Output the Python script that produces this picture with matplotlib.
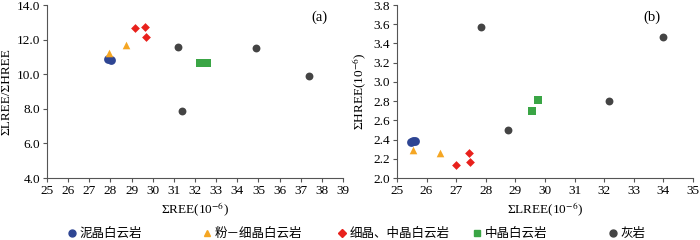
import matplotlib
matplotlib.use("Agg")
import matplotlib.pyplot as plt
from matplotlib.lines import Line2D

plt.rcParams['font.family'] = ['Liberation Serif', 'Noto Sans CJK SC']
plt.rcParams['mathtext.fontset'] = 'stix'
plt.rcParams['font.size'] = 9.5

names = ['泥晶白云岩', '粉－细晶白云岩', '细晶、中晶白云岩', '中晶白云岩', '灰岩']
colors = ['#2e4593', '#f5a623', '#e8211c', '#3aa545', '#444444']
markers = ['o', '^', 'D', 's', 'o']

# (a) sum REE vs LREE/HREE
a_x = [
    [27.88, 28.02],
    [27.93, 28.73],
    [29.15, 29.62, 29.70],
    [32.24, 32.57],
    [31.21, 31.40, 34.91, 37.41],
]
a_y = [
    [10.87, 10.82],
    [11.20, 11.69],
    [12.67, 12.73, 12.13],
    [10.67, 10.67],
    [11.56, 7.85, 11.50, 9.88],
]

# (b) LREE vs HREE
b_x = [
    [25.46, 25.54, 25.62],
    [25.53, 26.44],
    [27.01, 27.42, 27.48],
    [29.56, 29.75],
    [27.84, 28.75, 32.16, 33.97],
]
b_y = [
    [2.380, 2.381, 2.388],
    [2.287, 2.260],
    [2.132, 2.260, 2.163],
    [2.696, 2.813],
    [3.568, 2.505, 2.807, 3.471],
]

sizes = [40, 30, 20, 38, 32]

fig = plt.figure(figsize=(7, 2.4), dpi=100)
ax1 = fig.add_axes([0.067, 0.258, 0.423, 0.721])
ax2 = fig.add_axes([0.567, 0.258, 0.423, 0.721])

for i in range(5):
    ax1.scatter(a_x[i], a_y[i], s=sizes[i], c=colors[i], marker=markers[i],
                linewidths=0, zorder=3, clip_on=False)
    ax2.scatter(b_x[i], b_y[i], s=sizes[i], c=colors[i], marker=markers[i],
                linewidths=0, zorder=3, clip_on=False)

ax1.set_xlim(25, 39)
ax1.set_ylim(4, 14)
ax1.set_xticks(range(25, 40))
ax1.set_yticks([4, 6, 8, 10, 12, 14])
ax1.set_yticklabels(['%.1f' % v for v in [4, 6, 8, 10, 12, 14]])
ax1.set_xlabel(r'ΣREE(10$^{-6}$)', labelpad=3)
ax1.set_ylabel('ΣLREE/ΣHREE', labelpad=3)
ax1.text(0.92, 0.93, '(a)', transform=ax1.transAxes, ha='center', va='center', fontsize=10.5)

ax2.set_xlim(25, 35)
ax2.set_ylim(2.0, 3.8)
ax2.set_xticks(range(25, 36))
yt = [2.0, 2.2, 2.4, 2.6, 2.8, 3.0, 3.2, 3.4, 3.6, 3.8]
ax2.set_yticks(yt)
ax2.set_yticklabels(['%.1f' % v for v in yt])
ax2.set_xlabel(r'ΣLREE(10$^{-6}$)', labelpad=3)
ax2.set_ylabel(r'ΣHREE(10$^{-6}$)', labelpad=3)
ax2.text(0.86, 0.93, '(b)', transform=ax2.transAxes, ha='center', va='center', fontsize=10.5)

for ax in (ax1, ax2):
    ax.spines['top'].set_visible(False)
    ax.spines['right'].set_visible(False)
    ax.spines['left'].set_color('#555555')
    ax.spines['bottom'].set_color('#555555')
    ax.tick_params(direction='out', length=3, width=0.8, color='#555555', pad=2)

# legend row, one entry at a time
leg_x = [0.098, 0.290, 0.483, 0.676, 0.870]
for i in range(5):
    h = Line2D([], [], linestyle='none', marker=markers[i], color=colors[i],
               markersize=5 if markers[i] != 'D' else 4)
    fig.legend(handles=[h], labels=[names[i]], loc='center left',
               bbox_to_anchor=(leg_x[i], 0.025), frameon=False, fontsize=9,
               handlelength=0.6, handletextpad=0.3, borderpad=0, borderaxespad=0)

fig.savefig('out.png', dpi=100)
